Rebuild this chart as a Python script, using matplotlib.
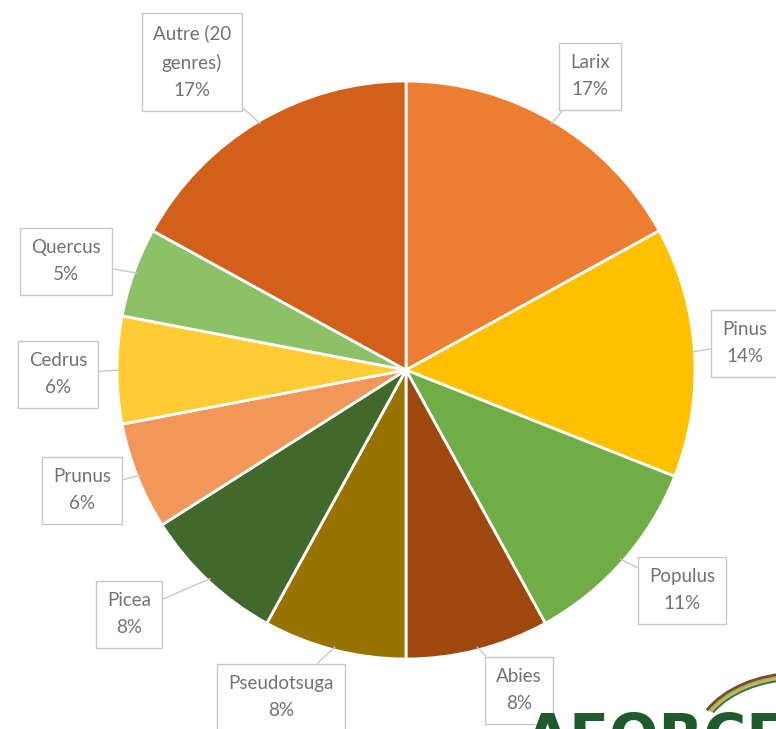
import numpy as np
import matplotlib.pyplot as plt
from matplotlib.patches import Arc

# Data
genres = ["Larix", "Pinus", "Populus", "Abies", "Pseudotsuga", "Picea",
          "Prunus", "Cedrus", "Quercus", "Autre (20\ngenres)"]
shares = [17, 14, 11, 8, 8, 8, 6, 6, 5, 17]
colors = ["#ED7D31", "#FFC000", "#70AD47", "#9E480E", "#997300", "#43682B",
          "#F1975A", "#FFCD33", "#8CC168", "#D2601A"]
# label box centres (pixels, from top-left)
label_pos = [(590, 76), (745, 343), (682, 590), (519, 690), (281, 697),
             (129, 614), (82, 490), (58, 374), (66, 261), (192, 62)]

W, H = 776, 729
fig = plt.figure(figsize=(W / 100, H / 100), dpi=100)
ax = fig.add_axes([0, 0, 1, 1])

cx, cy, r = 406, H - 370, 289
wedges, _ = ax.pie(shares, colors=colors, startangle=90, counterclock=False,
                   center=(cx, cy), radius=r,
                   wedgeprops=dict(edgecolor="white", linewidth=2))

for w, name, val, (lx, ly) in zip(wedges, genres, shares, label_pos):
    ang = np.deg2rad((w.theta1 + w.theta2) / 2)
    px, py = cx + 0.99 * r * np.cos(ang), cy + 0.99 * r * np.sin(ang)
    ax.annotate(f"{name}\n{val}%", xy=(px, py), xytext=(lx, H - ly),
                ha="center", va="center", fontsize=13.5, color="#727272",
                family="Lato", linespacing=1.75,
                bbox=dict(boxstyle="square,pad=0.6", fc="white", ec="#c8c8c8", lw=1),
                arrowprops=dict(arrowstyle="-", color="#c8c8c8", lw=1,
                                shrinkA=0, shrinkB=0))

# logo (partially cut off at the bottom edge, as in the source)
ax.text(525, H - 711, "AFORCE", ha="left", va="top", fontsize=42,
        fontweight="bold", color="#1f5a2c", family="DejaVu Sans")
for dr, c in zip([0, 4, 8, 12], ["#2e7d32", "#e0a96d", "#8fbf5a", "#7a4b2a"]):
    ax.add_patch(Arc((800, -15), 200 + dr, 130 + dr, theta1=95, theta2=160,
                     color=c, lw=2))

ax.set_xlim(0, W)
ax.set_ylim(0, H)
ax.set_aspect("equal")
ax.axis("off")

fig.savefig("out.png", dpi=100)
